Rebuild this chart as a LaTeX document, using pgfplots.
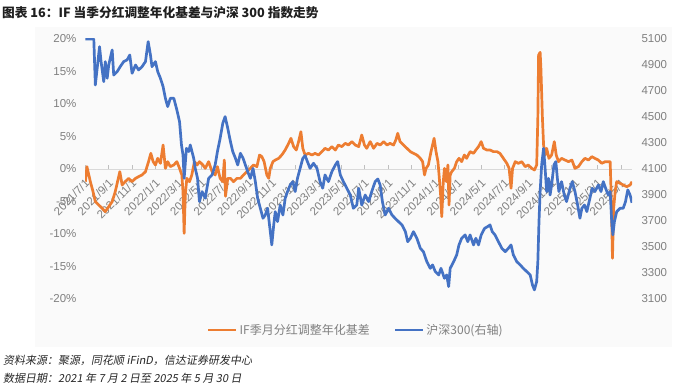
\documentclass[border=0pt]{standalone}
\usepackage{fontspec}
\setmainfont{Liberation Sans}
\newfontfamily\cjk{Noto Sans CJK SC}
\newfontfamily\cjksl[FakeSlant=0.18]{Noto Sans CJK SC}
\usepackage{pgfplots}
\usepackage{pgfplotstable}
\pgfplotsset{compat=1.18}
\definecolor{ifo}{HTML}{ED7D31}
\definecolor{hsb}{HTML}{4472C4}
\definecolor{tickg}{HTML}{808080}

\pgfplotstableread{
d v
1 -1.95
5 0.36
10 -0.92
14 -1.95
21 -3.49
27 -5.03
36 -5.54
45 -6.05
53 -6.56
62 -5.79
71 -5.03
79 -3.49
85 -1.95
91 -0.41
97 -2.46
105 -1.95
114 -1.44
123 -1.95
132 -1.44
140 -1.18
149 -0.92
158 -0.41
166 1.13
172 2.41
178 1.13
184 0.62
190 1.64
197 0.87
204 3.69
210 0.10
216 1.13
223 0.36
232 0.62
240 1.13
247 0.10
253 -0.92
256 -3.49
259 -9.90
262 -4.00
266 -1.44
273 -1.95
279 -0.92
286 1.13
293 0.62
299 1.13
308 0.62
314 0.10
323 1.13
332 -0.41
340 -0.92
346 0.36
353 -1.44
360 -1.95
364 1.38
367 -4.20
373 -1.44
380 -1.44
388 -1.95
397 -1.44
406 -1.44
414 -0.92
423 -0.41
432 0.10
440 0.62
449 0.36
456 2.15
462 1.90
468 1.13
475 -0.92
480 -1.44
484 0.10
491 1.13
497 1.38
506 1.64
514 2.15
523 2.92
532 3.95
538 4.72
545 3.44
552 2.92
558 4.21
564 5.74
569 3.18
575 2.15
584 2.41
593 2.15
601 2.41
610 2.15
619 2.67
627 3.18
636 2.92
645 3.44
654 2.92
662 3.69
671 3.44
680 3.95
688 3.69
697 4.21
706 3.69
715 3.44
723 5.23
730 3.69
736 3.18
745 4.21
754 3.18
763 3.95
771 3.69
780 4.21
789 3.69
797 3.95
806 3.69
812 4.46
817 5.49
823 4.21
832 3.69
841 3.18
850 2.67
858 2.41
867 2.15
876 1.64
882 1.13
887 -0.92
891 0.10
897 0.62
904 2.67
912 4.72
917 2.67
922 1.13
925 -0.92
929 -4.00
932 -7.33
936 -1.95
939 0.10
944 -1.95
948 0.62
951 -5.54
954 -0.92
958 -0.41
965 0.10
971 1.13
977 1.64
984 1.13
991 2.15
997 1.64
1006 2.67
1015 2.41
1021 2.92
1028 3.44
1035 4.21
1041 3.18
1050 2.92
1058 2.92
1067 2.67
1076 2.67
1084 2.41
1093 1.64
1102 0.87
1108 0.10
1113 -2.97
1117 0.10
1124 1.13
1132 0.87
1141 1.13
1150 0.36
1158 0.62
1167 0.10
1174 -0.15
1180 0.62
1183 7.80
1185 17.54
1189 17.95
1191 15.49
1195 7.80
1198 3.69
1202 2.15
1206 3.18
1212 1.64
1219 2.15
1226 4.21
1231 2.15
1237 1.13
1245 1.64
1254 1.38
1263 1.13
1272 1.38
1280 0.10
1289 0.36
1298 1.13
1306 1.64
1315 1.38
1324 1.90
1332 1.64
1341 1.38
1350 0.87
1359 1.13
1367 1.13
1372 1.13
1375 -5.03
1378 -13.74
1381 -6.05
1385 -3.49
1389 -1.95
1398 -2.21
1406 -2.46
1415 -2.72
1424 -2.46
1429 -1.95
}\basis

\pgfplotstableread{
d v
1 5100
23 5100
27 4746
38 5041
42 4926
49 4772
53 4926
58 4798
62 4900
71 5016
75 4823
84 4849
92 4887
101 4926
110 4939
117 4977
123 4836
132 4900
140 4862
149 4887
158 4926
165 5080
171 4977
175 4887
184 4926
190 4849
197 4798
204 4734
210 4644
216 4580
223 4644
232 4644
240 4554
247 4464
252 4285
256 4208
259 4028
265 4259
271 4234
275 4285
284 4182
288 4105
294 4028
299 3849
306 3926
314 3875
323 4028
332 4054
340 4131
346 4234
353 4336
360 4452
366 4503
373 4413
380 4310
386 4234
393 4182
399 4131
406 4221
413 4182
419 4131
425 4080
432 4028
439 4105
445 4003
451 3875
458 3798
465 3721
471 3746
477 3798
482 3670
488 3516
493 3670
497 3772
503 3695
510 3823
517 3746
523 3875
529 3926
536 3977
543 4003
549 3926
555 4028
562 4105
569 4182
575 4203
581 4157
588 4105
597 4144
606 4105
614 4003
621 3952
627 4054
636 4003
645 4080
654 4131
660 4157
667 4054
675 4003
684 3952
693 3900
701 3798
710 3823
715 3952
723 3823
732 3900
741 3849
749 3926
758 4003
765 4023
771 3977
777 3849
784 3746
793 3798
802 3746
810 3721
819 3695
828 3670
837 3618
843 3541
850 3567
858 3618
867 3567
876 3490
884 3464
893 3387
902 3336
908 3362
915 3311
924 3285
930 3336
939 3259
945 3285
950 3195
954 3336
963 3387
971 3439
977 3516
984 3567
993 3593
1000 3541
1006 3593
1015 3516
1021 3567
1028 3516
1035 3593
1044 3644
1052 3657
1058 3670
1064 3618
1071 3593
1080 3541
1089 3490
1098 3464
1106 3490
1113 3516
1119 3439
1128 3387
1137 3362
1145 3336
1154 3311
1163 3285
1169 3208
1174 3170
1180 3234
1183 3387
1186 3695
1189 3926
1193 4131
1198 4259
1202 4105
1206 3926
1211 4028
1215 3900
1219 3977
1225 4131
1230 4157
1234 4028
1238 3926
1245 4003
1252 3900
1258 3849
1267 3952
1273 4003
1280 3926
1287 3823
1293 3721
1298 3798
1305 3823
1311 3772
1319 3875
1325 3952
1332 3926
1341 3977
1348 3926
1354 4003
1360 3952
1367 3900
1372 3926
1376 3695
1379 3593
1383 3695
1389 3772
1398 3798
1406 3798
1412 3849
1418 3939
1424 3900
1429 3840
}\csi

\pgfplotsset{
  base/.style={
    at={(85pt,88pt)}, anchor=south west, scale only axis,
    width=547pt, height=260pt,
    xmin=0, xmax=1429,
    tick label style={font=\fontsize{11.5}{13}\selectfont, text=tickg},
  }
}

\begin{document}
\begin{tikzpicture}
\useasboundingbox (0pt,0pt) rectangle (700pt,387pt);
\fill[black!2] (35pt,40pt) rectangle (672pt,360pt);
\node[anchor=west, inner sep=0pt, font=\cjk\bfseries\fontsize{12.7}{15}\selectfont, text=black!88] at (2pt,374pt) {图表 16：IF 当季分红调整年化基差与沪深 300 指数走势};

\begin{axis}[base,
  ymin=-20, ymax=20,
  axis x line*=middle, axis y line*=left,
  hide obscured x ticks=false,
  y axis line style={draw=none},
  x axis line style={draw=black!15, line width=0.8pt, -},
  ytick={-20,-15,...,20},
  yticklabels={-20\%,-15\%,-10\%,-5\%,0\%,5\%,10\%,15\%,20\%},
  ytick style={draw=none},
  yticklabel style={xshift=-5pt},
  xtick={0,62,123,184,243,304,365,427,488,549,608,669,730,792,853,914,974,1035,1096,1158,1219,1280,1339,1400},
  xticklabels={2021/7/1,2021/9/1,2021/11/1,2022/1/1,2022/3/1,2022/5/1,2022/7/1,2022/9/1,2022/11/1,2023/1/1,2023/3/1,2023/5/1,2023/7/1,2023/9/1,2023/11/1,2024/1/1,2024/3/1,2024/5/1,2024/7/1,2024/9/1,2024/11/1,2025/1/1,2025/3/1,2025/5/1},
  xtick style={draw=black!25, line width=0.6pt},
  major tick length=4pt,
  xticklabel style={rotate=45, anchor=north east, xshift=-6pt, yshift=-5pt, inner sep=1pt},
]
\addplot[ifo, line width=2.7pt, line join=round] table[x=d, y=v]{\basis};
\end{axis}

\begin{axis}[base,
  ymin=3100, ymax=5100,
  axis x line=none, axis y line*=right,
  y axis line style={draw=none},
  ytick={3100,3300,...,5100},
  yticklabels={3100,3300,3500,3700,3900,4100,4300,4500,4700,4900,5100},
  ytick style={draw=none},
  yticklabel style={xshift=6pt},
  legend style={at={(0.495,-0.119)}, anchor=center, draw=none, fill=none,
    legend columns=2, font=\cjk\fontsize{12}{14}\selectfont, text=tickg,
    /tikz/every even column/.append style={column sep=22pt}},
  legend image code/.code={\draw[#1] (0pt,0pt) -- (28pt,0pt);},
]
\addlegendimage{ifo, line width=2.7pt}
\addlegendentry{IF季月分红调整年化基差}
\addplot[hsb, line width=2.7pt, line join=round] table[x=d, y=v]{\csi};
\addlegendentry{沪深300(右轴)}
\end{axis}

\node[anchor=west, inner sep=0pt, font=\cjksl\fontsize{11}{13}\selectfont, text=black!85] at (3pt,27pt) {资料来源：聚源，同花顺 iFinD，信达证券研发中心};
\node[anchor=west, inner sep=0pt, font=\cjksl\fontsize{11}{13}\selectfont, text=black!85] at (3pt,9pt) {数据日期：2021 年 7 月 2 日至 2025 年 5 月 30 日};
\end{tikzpicture}
\end{document}
